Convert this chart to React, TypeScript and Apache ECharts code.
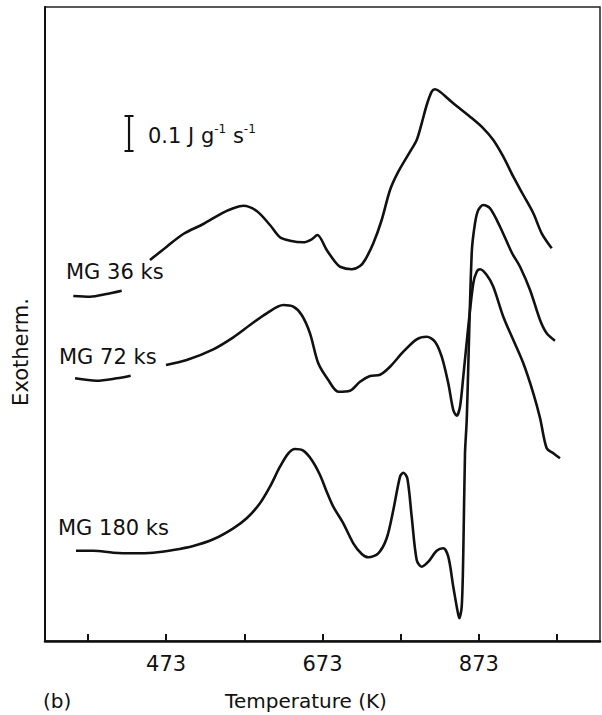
import React, { useEffect, useRef } from "react";
import * as echarts from "echarts";

// Temperature axis (K)
const TEMP_TICKS = [373, 473, 573, 673, 773, 873, 973];
const TEMP_LABELS = [473, 673, 873];

// Exotherm signal in arbitrary units (35 units = 0.1 J g^-1 s^-1), curves offset vertically
const MG36_LOW_T = [354.2, 375.6, 396.9, 416.1];
const MG36_LOW_Y = [345, 344.3, 347, 350.3];
const MG36_T = [452.3, 473.7, 494.9, 520.5, 544.1, 558.9, 571.7, 588.8, 605.8, 618.6, 631.4, 648.4, 659.2, 666.4, 678.4, 689, 695.4, 710.4, 721, 727.4, 738, 748.7, 759.4, 770, 785, 793.5, 799.9, 806.3, 812.7, 816.9, 823.3, 840.3, 861.7, 878.7, 891.5, 904.3, 917.1, 929.9, 942.7, 953.4, 966.2];
const MG36_Y = [381, 394.3, 407, 417, 427.7, 432.7, 435.3, 430, 416, 403.7, 400.3, 398.7, 401.7, 406, 391, 379.3, 374.3, 371.7, 375, 381, 397.7, 421, 451, 469.3, 489.3, 501, 517.7, 536, 549.3, 551.7, 549.3, 537.7, 524.3, 512.7, 501, 484.3, 464.3, 446, 427.7, 407.7, 392.7];

const MG72_LOW_T = [356.4, 384.1, 409.7, 427.6];
const MG72_LOW_Y = [262.7, 260.3, 262.7, 265.3];
const MG72_T = [472.8, 499.3, 533.3, 558.9, 580.3, 601.6, 622.9, 635.6, 646.4, 657, 667.6, 680.4, 693.2, 708.2, 721, 733.8, 746.6, 759.4, 776.4, 793.5, 806.3, 816.9, 825.5, 833.9, 840.3, 844.7, 848.9, 853.1, 859.5, 865.9, 870.3, 874.5, 883.1, 891.5, 904.3, 917.1, 929.9, 942.7, 951.3, 959.8, 968.3, 976.8];
const MG72_Y = [276, 281, 291.7, 303.7, 316, 327.7, 336, 334.3, 326, 307.7, 277.7, 261, 249.3, 250.3, 259.3, 265, 266.3, 274.3, 289.3, 301.7, 304.3, 299.3, 284.3, 257.7, 231, 225.3, 234.3, 264.3, 314.3, 357.7, 369.3, 371.7, 366, 354.3, 324.3, 301, 277.7, 247.7, 223, 192.7, 187.7, 182.7];

const MG180_T = [357.7, 379.8, 405.4, 431, 456.5, 482.1, 507.7, 533.3, 558.9, 576, 593, 605.8, 618.6, 629.3, 637.8, 648.4, 659.2, 669.8, 678.4, 686.8, 699.6, 712.4, 723.2, 731.6, 744.4, 755.1, 763.6, 772.2, 776.4, 781.5, 787.1, 793.5, 799.9, 808.4, 819.1, 827.5, 833.9, 840.3, 845.5, 848, 851.1, 853.1, 855.3, 857.5, 863.9, 868.1, 872.3, 878.7, 887.3, 900.1, 915.4, 925.7, 938.5, 951.3, 959.8, 970.4];
const MG180_Y = [90.3, 90.3, 88.3, 87.7, 88.3, 91, 95, 101.7, 112.7, 122.7, 137.7, 154.3, 174.3, 187.7, 192, 190.3, 181, 166, 149.3, 134.3, 117.7, 97.7, 87, 83.7, 87.7, 102.7, 131, 164.3, 168.3, 162.7, 124.3, 81, 74.3, 79.3, 90.3, 92.7, 84.3, 54.3, 31, 22.7, 34.3, 87.7, 187.7, 221, 388, 417.7, 431, 436, 432.7, 414.3, 388, 374.3, 351, 321, 307.7, 300.3];

// Scale bar: 0.1 J g^-1 s^-1
const SCALE_BAR_T = 425.5;
const SCALE_BAR_BASE = 490;
const SCALE_BAR_LEN = 35;

const SERIES_NAMES = ["MG 36 ks", "MG 72 ks", "MG 180 ks"];

const INK = "#111";
const FONT = "DejaVu Sans";

function pairs(t: number[], y: number[]) {
  return t.map((v, i) => [v, y[i]]);
}

function curve(name: string, data: number[][]) {
  return {
    name,
    type: "line",
    data,
    smooth: 0.3,
    showSymbol: false,
    symbol: "none",
    lineStyle: { color: INK, width: 2.6 },
    silent: true,
    z: 3,
  };
}

export default function App() {
  const ref = useRef<HTMLDivElement>(null);

  useEffect(() => {
    if (!ref.current) return;
    const chart = echarts.init(ref.current, null, { renderer: "svg" });
    chart.setOption({
      animation: false,
      backgroundColor: "#fff",
      textStyle: { fontFamily: FONT },
      grid: {
        left: 45,
        right: 2,
        top: 7,
        bottom: 74,
        show: true,
        borderColor: "#222",
        borderWidth: 1.5,
        backgroundColor: "transparent",
      },
      xAxis: {
        type: "value",
        min: 318,
        max: 1028,
        position: "bottom",
        axisLine: { show: true, onZero: false, lineStyle: { color: INK, width: 2.5 } },
        axisTick: {
          show: true,
          inside: true,
          length: 7,
          customValues: TEMP_TICKS,
          lineStyle: { color: INK, width: 2 },
        },
        axisLabel: {
          show: true,
          customValues: TEMP_LABELS,
          margin: 12,
          fontSize: 21,
          color: INK,
          fontFamily: FONT,
        },
        splitLine: { show: false },
      },
      yAxis: {
        type: "value",
        min: 0,
        max: 634,
        position: "left",
        axisLine: { show: true, onZero: false, lineStyle: { color: INK, width: 2 } },
        axisTick: { show: false },
        axisLabel: { show: false },
        splitLine: { show: false },
      },
      series: [
        curve(SERIES_NAMES[0], pairs(MG36_LOW_T, MG36_LOW_Y)),
        curve(SERIES_NAMES[0], pairs(MG36_T, MG36_Y)),
        curve(SERIES_NAMES[1], pairs(MG72_LOW_T, MG72_LOW_Y)),
        curve(SERIES_NAMES[1], pairs(MG72_T, MG72_Y)),
        curve(SERIES_NAMES[2], pairs(MG180_T, MG180_Y)),
        {
          name: "scale",
          type: "line",
          data: [
            [SCALE_BAR_T, SCALE_BAR_BASE],
            [SCALE_BAR_T, SCALE_BAR_BASE + SCALE_BAR_LEN],
          ],
          symbol: "rect",
          symbolSize: [9, 2],
          showSymbol: true,
          itemStyle: { color: INK },
          lineStyle: { color: INK, width: 2.2 },
          silent: true,
        },
      ],
      graphic: [
        {
          type: "text",
          left: 148,
          top: 123,
          style: {
            text: "{a|0.1 J g}{s|-1}{a| s}{s|-1}",
            fill: INK,
            rich: {
              a: { fontSize: 21, fontFamily: FONT, fill: INK, lineHeight: 25 },
              s: { fontSize: 12, fontFamily: FONT, fill: INK, lineHeight: 12, verticalAlign: "top" },
            },
          },
        },
        {
          type: "text",
          x: 66,
          y: 272,
          style: { text: SERIES_NAMES[0], fontSize: 21, fontFamily: FONT, fill: INK, verticalAlign: "middle" },
        },
        {
          type: "text",
          x: 59,
          y: 357,
          style: { text: SERIES_NAMES[1], fontSize: 21, fontFamily: FONT, fill: INK, verticalAlign: "middle" },
        },
        {
          type: "text",
          x: 58,
          y: 528,
          style: { text: SERIES_NAMES[2], fontSize: 21, fontFamily: FONT, fill: INK, verticalAlign: "middle" },
        },
        {
          type: "text",
          x: 21,
          y: 352,
          rotation: Math.PI / 2,
          style: {
            text: "Exotherm.",
            fontSize: 21,
            fontFamily: FONT,
            fill: INK,
            align: "center",
            verticalAlign: "middle",
          },
        },
        {
          type: "text",
          x: 306,
          y: 701,
          style: {
            text: "Temperature (K)",
            fontSize: 20,
            fontFamily: FONT,
            fill: INK,
            align: "center",
            verticalAlign: "middle",
          },
        },
        {
          type: "text",
          x: 43,
          y: 701,
          style: { text: "(b)", fontSize: 20, fontFamily: FONT, fill: INK, verticalAlign: "middle" },
        },
      ],
    });
    return () => chart.dispose();
  }, []);

  return (
    <div
      ref={ref}
      style={{ position: "fixed", left: 0, top: 0, width: 602, height: 715, background: "#fff" }}
    />
  );
}
